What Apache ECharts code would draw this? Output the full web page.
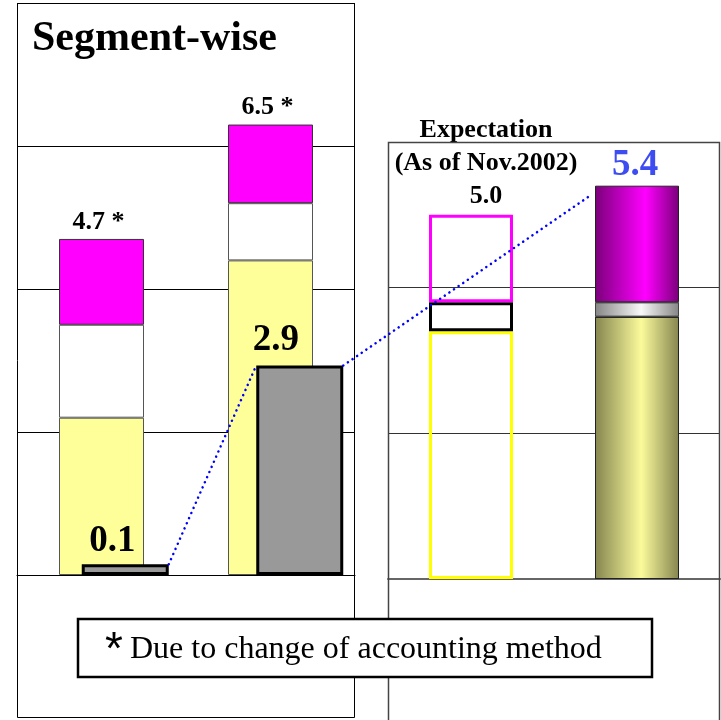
<!DOCTYPE html>
<html><head><meta charset="utf-8">
<script src="https://cdn.jsdelivr.net/npm/echarts@6.0.0/dist/echarts.min.js"></script>
<style>html,body{margin:0;padding:0;background:#fff}#c{width:721px;height:720px}</style>
</head><body><div id="c"></div>
<script>
// ---- data ----
const leftCats = ['Before', 'After'];
const leftBase = [2.2, 4.4];
const leftMid = [1.3, 0.8];
const leftTop = [1.2, 1.1];
const leftTotalLabels = ['4.7 *', '6.5 *'];
const profit = [0.15, 2.93];
const profitLabels = ['0.1', '2.9'];
const rightCats = ['Expectation', 'Result'];
const rightBase = [3.4, 3.6];
const rightMid = [0.4, 0.2];
const rightTop = [1.2, 1.6];
const rightTotalLabels = ['Expectation\n(As of Nov.2002)\n5.0', '5.4'];
const titleText = 'Segment-wise';
const noteText = 'Due to change of accounting method';

const SERIF = "'Liberation Serif','Times New Roman',serif";
const chart = echarts.init(document.getElementById('c'), null, {renderer: 'canvas'});

function hGrad(edge, mid, pos) {
  return new echarts.graphic.LinearGradient(0, 0, 1, 0, [
    {offset: 0, color: edge}, {offset: pos, color: mid}, {offset: 1, color: edge}
  ]);
}

const option = {
  animation: false,
  backgroundColor: '#fff',
  title: {
    text: titleText, left: 27, top: 13,
    textStyle: {fontFamily: SERIF, fontWeight: 'bold', fontSize: 42, color: '#000'}
  },
  grid: [
    {left: 17, top: 3, width: 338, height: 572},
    {left: 38, top: 3, width: 349, height: 572},
    {left: 388, top: 142, width: 332, height: 437}
  ],
  xAxis: [
    {gridIndex: 0, type: 'category', data: leftCats,
     axisLine: {lineStyle: {color: '#000', width: 1}},
     axisTick: {inside: true, length: 8, lineStyle: {color: '#444'}},
     axisLabel: {show: false}},
    {gridIndex: 1, type: 'category', data: leftCats, show: false},
    {gridIndex: 2, type: 'category', data: rightCats,
     axisLine: {lineStyle: {color: '#666', width: 2}},
     axisTick: {inside: true, length: 8, lineStyle: {color: '#333'}},
     axisLabel: {show: false}}
  ],
  yAxis: [
    {gridIndex: 0, type: 'value', min: 0, max: 8, interval: 2,
     axisLine: {show: false}, axisTick: {show: false}, axisLabel: {show: false},
     splitLine: {lineStyle: {color: '#000', width: 1}}},
    {gridIndex: 1, type: 'value', min: 0, max: 8, interval: 2, show: false, splitLine: {show: false}},
    {gridIndex: 2, type: 'value', min: 0, max: 6, interval: 2,
     axisLine: {show: false}, axisTick: {show: false}, axisLabel: {show: false},
     splitLine: {lineStyle: {color: '#333', width: 1}}}
  ],
  series: [
    {type: 'bar', xAxisIndex: 0, yAxisIndex: 0, stack: 'L', barWidth: 85, data: leftBase,
     itemStyle: {color: '#ffff99', borderColor: '#555', borderWidth: 1}},
    {type: 'bar', xAxisIndex: 0, yAxisIndex: 0, stack: 'L', barWidth: 85, data: leftMid,
     itemStyle: {color: '#ffffff', borderColor: '#555', borderWidth: 1}},
    {type: 'bar', xAxisIndex: 0, yAxisIndex: 0, stack: 'L', barWidth: 85, data: leftTop,
     itemStyle: {color: '#ff00ff', borderColor: '#333', borderWidth: 1},
     label: {show: true, position: 'top', distance: 4, offset: [-3, 0],
       formatter: p => leftTotalLabels[p.dataIndex],
       fontFamily: SERIF, fontWeight: 'bold', fontSize: 26, color: '#000'}},
    {type: 'bar', xAxisIndex: 1, yAxisIndex: 1, barWidth: 87,
     data: profit.map((v, i) => ({value: v, label: {offset: [i === 0 ? -13 : -24, i === 0 ? 4 : 1]}})),
     itemStyle: {color: '#999999', borderColor: '#000', borderWidth: 3},
     label: {show: true, position: 'top', distance: 8,
       formatter: p => profitLabels[p.dataIndex],
       fontFamily: SERIF, fontWeight: 'bold', fontSize: 37, color: '#000'}},
    {type: 'bar', xAxisIndex: 2, yAxisIndex: 2, stack: 'R', barWidth: 84,
     data: rightBase.map((v, i) => ({value: v, itemStyle: i === 0
       ? {color: 'rgba(255,255,255,0)', borderColor: '#ffff00', borderWidth: 3}
       : {color: hGrad('#858550', '#fbfb9c', 0.55), borderColor: '#222', borderWidth: 1}}))},
    {type: 'bar', xAxisIndex: 2, yAxisIndex: 2, stack: 'R', barWidth: 84,
     data: rightMid.map((v, i) => ({value: v, itemStyle: i === 0
       ? {color: 'rgba(255,255,255,0)', borderColor: '#000', borderWidth: 3}
       : {color: hGrad('#858585', '#f8f8f8', 0.55), borderColor: '#444', borderWidth: 1}}))},
    {type: 'bar', xAxisIndex: 2, yAxisIndex: 2, stack: 'R', barWidth: 84,
     data: rightTop.map((v, i) => ({value: v,
       itemStyle: i === 0
         ? {color: 'rgba(255,255,255,0)', borderColor: '#ff00ff', borderWidth: 3}
         : {color: hGrad('#7a007a', '#ff00ff', 0.6), borderColor: '#222', borderWidth: 1},
       label: i === 0
         ? {offset: [15, 4], fontSize: 26, lineHeight: 33, color: '#000'}
         : {offset: [-2, 4], fontSize: 37, color: '#3d4df2'}})),
     label: {show: true, position: 'top', distance: 6,
       formatter: p => rightTotalLabels[p.dataIndex],
       fontFamily: SERIF, fontWeight: 'bold'}}
  ]
};
chart.setOption(option);

// connectors computed through the chart's own scales
const gHalf = 87 / 2;
const q1 = chart.convertToPixel({gridIndex: 1}, [0, profit[0]]);
const q2 = chart.convertToPixel({gridIndex: 1}, [1, profit[1]]);
const rTotal = rightBase[1] + rightMid[1] + rightTop[1];
const q3 = chart.convertToPixel({gridIndex: 2}, [1, rTotal]);
const dotStyle = {stroke: '#0000ff', lineWidth: 2.5, lineDash: [0.1, 5.5], lineCap: 'round', fill: null};

chart.setOption({
  graphic: [
    {id: 'panelL', type: 'rect', z: 5, silent: true,
     shape: {x: 17.5, y: 3.5, width: 337, height: 714},
     style: {fill: null, stroke: '#000', lineWidth: 1}},
    {id: 'panelR', type: 'rect', z: 5, silent: true,
     shape: {x: 388.5, y: 142.5, width: 331, height: 640},
     style: {fill: null, stroke: '#444', lineWidth: 1.5}},
    {id: 'line1', type: 'line', z: 20, silent: true,
     shape: {x1: q1[0] + gHalf, y1: q1[1], x2: q2[0] - gHalf, y2: q2[1]},
     style: dotStyle},
    {id: 'line2', type: 'line', z: 20, silent: true,
     shape: {x1: q2[0] + gHalf, y1: q2[1], x2: q3[0] - 47, y2: q3[1] + 10},
     style: dotStyle},
    {id: 'noteBox', type: 'rect', z: 30, silent: true,
     shape: {x: 78, y: 619, width: 574, height: 58},
     style: {fill: '#fff', stroke: '#000', lineWidth: 2.5}},
    {id: 'noteStar', type: 'text', z: 31, silent: true, x: 105, y: 651,
     style: {text: '*', font: "46px 'Liberation Sans', Arial, sans-serif", fill: '#000', verticalAlign: 'middle'}},
    {id: 'noteText', type: 'text', z: 31, silent: true, x: 130, y: 650,
     style: {text: noteText, font: "32px 'Liberation Serif','Times New Roman',serif", fill: '#000', verticalAlign: 'middle'}}
  ]
});
</script>
</body></html>
